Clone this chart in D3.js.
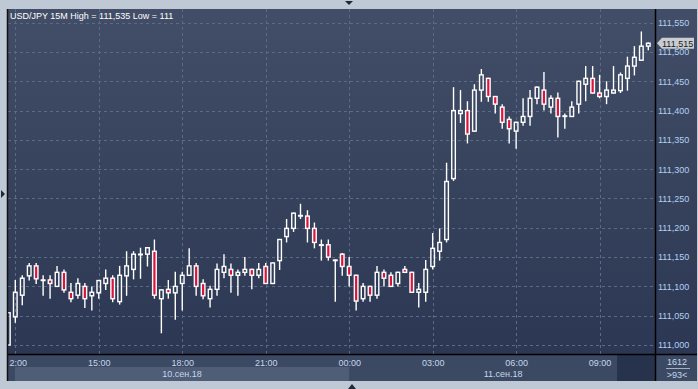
<!DOCTYPE html>
<html lang="ru">
<head>
<meta charset="UTF-8">
<title>USD/JPY 15M</title>
<style>
    body {
        margin: 0;
        background-color: #bfc9d5;
        overflow: hidden;
    }
    svg { display: block; }
    text { font-family: 'Liberation Sans', Arial, sans-serif; }
</style>
</head>
<body>
<div id="chart"></div>

<script src="https://d3js.org/d3.v7.min.js"></script>
<script>
    // candles, 15 min each, 10 Sep 11:45 .. 11 Sep 10:45
    var open = [111.000, 111.048, 111.085, 111.118, 111.135, 111.110, 111.111, 111.100, 111.124, 111.090,
        111.085, 111.100, 111.084, 111.089, 111.105, 111.114, 111.074, 111.118, 111.129, 111.154,
        111.155, 111.160, 111.079, 111.095, 111.089, 111.105, 111.119, 111.135, 111.105, 111.079,
        111.095, 111.124, 111.129, 111.119, 111.124, 111.129, 111.119, 111.134, 111.105, 111.144,
        111.185, 111.199, 111.221, 111.220, 111.199, 111.171, 111.171, 111.145, 111.155, 111.134,
        111.119, 111.079, 111.100, 111.085, 111.124, 111.119, 111.105, 111.129, 111.124, 111.090,
        111.090, 111.134, 111.160, 111.180, 111.284, 111.395, 111.400, 111.365, 111.435, 111.455,
        111.424, 111.406, 111.385, 111.365, 111.380, 111.390, 111.421, 111.435, 111.406, 111.421,
        111.390, 111.390, 111.411, 111.445, 111.455, 111.430, 111.424, 111.430, 111.434, 111.455,
        111.476, 111.486, 111.510];
    var high = [111.056, 111.111, 111.119, 111.140, 111.140, 111.119, 111.119, 111.135, 111.129, 111.106,
        111.114, 111.106, 111.100, 111.111, 111.129, 111.119, 111.135, 111.160, 111.160, 111.166,
        111.167, 111.180, 111.095, 111.111, 111.125, 111.125, 111.165, 111.140, 111.112, 111.101,
        111.139, 111.155, 111.139, 111.129, 111.150, 111.130, 111.140, 111.140, 111.141, 111.181,
        111.215, 111.226, 111.241, 111.230, 111.209, 111.180, 111.180, 111.146, 111.157, 111.150,
        111.120, 111.106, 111.101, 111.135, 111.129, 111.124, 111.125, 111.135, 111.125, 111.106,
        111.145, 111.191, 111.199, 111.311, 111.440, 111.435, 111.416, 111.445, 111.471, 111.456,
        111.425, 111.411, 111.390, 111.381, 111.421, 111.435, 111.441, 111.466, 111.426, 111.431,
        111.395, 111.416, 111.451, 111.476, 111.476, 111.461, 111.450, 111.476, 111.465, 111.492,
        111.510, 111.535, 111.516];
    var low = [111.000, 111.038, 111.068, 111.110, 111.104, 111.084, 111.079, 111.099, 111.089, 111.073,
        111.079, 111.063, 111.059, 111.079, 111.094, 111.073, 111.069, 111.084, 111.112, 111.113,
        111.134, 111.079, 111.020, 111.079, 111.043, 111.059, 111.118, 111.084, 111.078, 111.064,
        111.084, 111.114, 111.089, 111.084, 111.118, 111.095, 111.114, 111.104, 111.104, 111.128,
        111.175, 111.193, 111.215, 111.175, 111.165, 111.144, 111.144, 111.074, 111.118, 111.100,
        111.059, 111.074, 111.074, 111.079, 111.100, 111.099, 111.100, 111.123, 111.089, 111.064,
        111.074, 111.129, 111.144, 111.175, 111.280, 111.379, 111.344, 111.364, 111.415, 111.415,
        111.395, 111.369, 111.344, 111.335, 111.374, 111.374, 111.411, 111.400, 111.395, 111.354,
        111.369, 111.389, 111.395, 111.416, 111.429, 111.421, 111.411, 111.429, 111.430, 111.434,
        111.460, 111.485, 111.503];
    var close = [111.055, 111.090, 111.114, 111.135, 111.113, 111.111, 111.105, 111.124, 111.094, 111.079,
        111.105, 111.079, 111.090, 111.110, 111.114, 111.079, 111.119, 111.135, 111.155, 111.155,
        111.166, 111.085, 111.094, 111.089, 111.100, 111.119, 111.135, 111.100, 111.084, 111.095,
        111.129, 111.134, 111.119, 111.124, 111.129, 111.119, 111.129, 111.105, 111.140, 111.180,
        111.199, 111.225, 111.220, 111.199, 111.175, 111.170, 111.150, 111.144, 111.134, 111.119,
        111.075, 111.100, 111.085, 111.124, 111.114, 111.100, 111.124, 111.124, 111.090, 111.095,
        111.129, 111.165, 111.175, 111.279, 111.400, 111.400, 111.360, 111.435, 111.461, 111.424,
        111.411, 111.380, 111.369, 111.380, 111.390, 111.421, 111.440, 111.411, 111.421, 111.390,
        111.391, 111.406, 111.450, 111.455, 111.430, 111.424, 111.435, 111.435, 111.461, 111.476,
        111.491, 111.510, 111.515];

    var timeTickIdx = [1, 13, 25, 37, 49, 61, 73, 85];
    var timeLabels = ["12:00", "15:00", "18:00", "21:00", "00:00", "03:00", "06:00", "09:00"];
    var dateLabels = ["10.сен.18", "11.сен.18"];
    var dateStartIdx = [1, 49];   // first tick of each day band
    var priceTicks = [111.000, 111.050, 111.100, 111.150, 111.200, 111.250,
        111.300, 111.350, 111.400, 111.450, 111.500, 111.550];

    var w = 698, h = 389;
    var plotL = 8, plotR = 655, plotT = 9, plotB = 354;
    var panelR = 697, panelB = 381;

    var x = d3.scaleLinear().domain([0, open.length - 1]).range([8.34, 648.3]);
    var y = d3.scaleLinear().domain([111.0, 111.55]).range([345, 22.7]);

    var commaFmt = function(v) { return d3.format(".3f")(v).replace(".", ","); };

    var svg = d3.select("#chart").append("svg")
        .attr("width", w)
        .attr("height", h);

    var defs = svg.append("defs");
    var grad = defs.append("linearGradient")
        .attr("id", "bg").attr("x1", 0).attr("y1", 0).attr("x2", 0).attr("y2", 1);
    grad.append("stop").attr("offset", "0%").attr("stop-color", "#424e67");
    grad.append("stop").attr("offset", "100%").attr("stop-color", "#2c3853");

    defs.append("clipPath").attr("id", "plotClip")
        .append("rect")
        .attr("x", plotL).attr("y", plotT)
        .attr("width", plotR - plotL).attr("height", plotB - plotT);
    defs.append("clipPath").attr("id", "axisClip")
        .append("rect")
        .attr("x", plotL + 1).attr("y", plotB)
        .attr("width", plotR - plotL).attr("height", panelB - plotB);

    // panels
    svg.append("rect").attr("x", plotL).attr("y", plotT)
        .attr("width", panelR - plotL).attr("height", plotB - plotT)
        .attr("fill", "url(#bg)");
    svg.append("rect").attr("x", plotL).attr("y", plotB)
        .attr("width", panelR - plotL).attr("height", panelB - plotB)
        .attr("fill", "#3c4963");

    // date bands
    svg.append("rect")
        .attr("x", 15).attr("y", 367)
        .attr("width", x(dateStartIdx[1]) - 15).attr("height", 14)
        .attr("fill", "#4f5d77");
    svg.append("rect")
        .attr("x", 617).attr("y", plotB + 1)
        .attr("width", plotR - 617).attr("height", panelB - plotB - 1)
        .attr("fill", "#27334c");

    // grid
    var grid = svg.append("g")
        .attr("stroke", "#5b6a85")
        .attr("stroke-dasharray", "3,3")
        .attr("stroke-width", 1);
    grid.selectAll(".hg").data(priceTicks).enter().append("line")
        .attr("x1", plotL).attr("x2", plotR)
        .attr("y1", function(d) { return Math.round(y(d)) + 0.5; })
        .attr("y2", function(d) { return Math.round(y(d)) + 0.5; });
    grid.selectAll(".vg").data(timeTickIdx).enter().append("line")
        .attr("y1", plotT).attr("y2", plotB)
        .attr("x1", function(d) { return Math.round(x(d)) + 0.5; })
        .attr("x2", function(d) { return Math.round(x(d)) + 0.5; });

    // candles
    var bodyW = 3.6;
    var candles = svg.append("g").attr("clip-path", "url(#plotClip)")
        .selectAll("g").data(open).enter().append("g");

    candles.append("line")
        .attr("x1", function(d, i) { return x(i); })
        .attr("x2", function(d, i) { return x(i); })
        .attr("y1", function(d, i) { return y(high[i]); })
        .attr("y2", function(d, i) { return y(Math.max(open[i], close[i])); })
        .attr("stroke", "#fff").attr("stroke-width", 1.4);
    candles.append("line")
        .attr("x1", function(d, i) { return x(i); })
        .attr("x2", function(d, i) { return x(i); })
        .attr("y1", function(d, i) { return y(Math.min(open[i], close[i])); })
        .attr("y2", function(d, i) { return y(low[i]); })
        .attr("stroke", "#fff").attr("stroke-width", 1.4);
    candles.append("rect")
        .attr("x", function(d, i) { return x(i) - bodyW / 2; })
        .attr("width", bodyW)
        .attr("y", function(d, i) { return y(Math.max(open[i], close[i])); })
        .attr("height", function(d, i) { return Math.abs(y(open[i]) - y(close[i])); })
        .attr("fill", function(d, i) { return close[i] < open[i] ? "#dc143c" : "none"; })
        .attr("stroke", "#fff").attr("stroke-width", 1.4);

    // separators
    svg.append("line").attr("x1", plotR + 0.5).attr("x2", plotR + 0.5)
        .attr("y1", plotT).attr("y2", panelB)
        .attr("stroke", "#000").attr("stroke-width", 1.5);
    svg.append("line").attr("x1", plotL).attr("x2", panelR)
        .attr("y1", plotB + 0.5).attr("y2", plotB + 0.5)
        .attr("stroke", "#000").attr("stroke-width", 1.5);
    svg.append("line").attr("x1", plotL - 0.5).attr("x2", plotL - 0.5)
        .attr("y1", plotT).attr("y2", panelB)
        .attr("stroke", "#111").attr("stroke-width", 1.5);

    // price axis
    var yAxis = svg.append("g")
        .attr("transform", "translate(658,0)")
        .call(d3.axisRight(y).tickValues(priceTicks).tickSize(0).tickPadding(0).tickFormat(commaFmt));
    yAxis.select(".domain").remove();
    yAxis.selectAll("text")
        .attr("fill", "#b3d0f2")
        .style("font-size", "9px")
        .style("font-family", "'Liberation Sans', Arial, sans-serif");

    // time axis
    var xAxis = svg.append("g")
        .attr("clip-path", "url(#axisClip)")
        .append("g")
        .attr("transform", "translate(0,359.6)")
        .call(d3.axisBottom(x).tickValues(timeTickIdx).tickSize(0).tickPadding(0)
            .tickFormat(function(d, i) { return timeLabels[i]; }));
    xAxis.select(".domain").remove();
    xAxis.selectAll("text")
        .attr("fill", "#c6d6ec")
        .style("font-size", "9px")
        .style("font-family", "'Liberation Sans', Arial, sans-serif");

    // day labels
    var dayCenters = [(15 + x(dateStartIdx[1])) / 2, (x(dateStartIdx[1]) + plotR) / 2 + 1];
    svg.selectAll(".day").data(dateLabels).enter().append("text")
        .attr("x", function(d, i) { return dayCenters[i]; })
        .attr("y", 377)
        .attr("text-anchor", "middle")
        .attr("fill", "#c6d6ec")
        .style("font-size", "9px")
        .text(function(d) { return d; });

    // bottom right counters
    svg.append("text").attr("x", 677).attr("y", 365)
        .attr("text-anchor", "middle").attr("fill", "#c6d6ec")
        .style("font-size", "9px").text("1612");
    svg.append("line").attr("x1", 666).attr("x2", 690)
        .attr("y1", 368.5).attr("y2", 368.5)
        .attr("stroke", "#9fb0c8").attr("stroke-width", 1);
    svg.append("text").attr("x", 677).attr("y", 378)
        .attr("text-anchor", "middle").attr("fill", "#c6d6ec")
        .style("font-size", "9px").text(">93<");

    // last price marker
    var last = close[close.length - 1];
    var ly = y(last);
    svg.append("polygon")
        .attr("points", [[657, ly], [662, ly - 5.5], [694, ly - 5.5], [694, ly + 5.5], [662, ly + 5.5]].join(" "))
        .attr("fill", "#c9cdd2");
    svg.append("text").attr("x", 662).attr("y", ly + 3.3)
        .attr("fill", "#1a1a1a")
        .style("font-size", "9px")
        .text(commaFmt(last));

    // title
    svg.append("text").attr("x", 10).attr("y", 18.5)
        .attr("fill", "#ffffff")
        .style("font-size", "9px")
        .text("USD/JPY 15M High = " + commaFmt(d3.max(high)) + " Low = " + d3.min(low));

    // frame arrows
    var arrowCol = "#1d2838";
    svg.append("polygon").attr("points", "345,1 353,1 349,5").attr("fill", arrowCol);
    svg.append("polygon").attr("points", "1,190 1,198 5,194").attr("fill", arrowCol);
    svg.append("polygon").attr("points", "348,389 356,389 352,384").attr("fill", arrowCol);
</script>
</body>
</html>
